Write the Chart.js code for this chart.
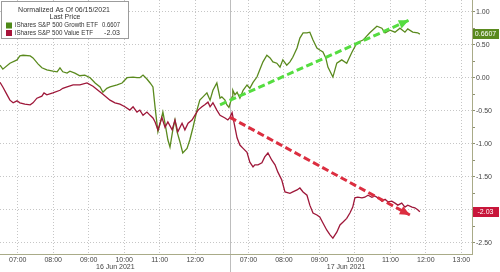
<!DOCTYPE html>
<html>
<head>
<meta charset="utf-8">
<script src="https://cdn.jsdelivr.net/npm/chart.js@4.4.0/dist/chart.umd.min.js"></script>
<style>
  html, body { margin: 0; padding: 0; background: #fff; }
  #wrap { width: 500px; height: 272px; }
</style>
</head>
<body>
<div id="wrap"><canvas id="chart" width="500" height="272"></canvas></div>
<script>
// x values are hours since 06:30 on 16 Jun (17 Jun session starts at 6.5)
const growthTimes = [0, 0.08, 0.28, 0.48, 0.56, 0.65, 0.85, 0.93, 1.07, 1.18, 1.32, 1.49, 1.61, 1.69, 1.77, 1.89, 1.97, 2.11, 2.25, 2.39,
  2.54, 2.68, 2.82, 2.90, 3.01, 3.10, 3.30, 3.44, 3.58, 3.75, 3.86, 3.94, 4.03, 4.14, 4.23, 4.31, 4.37, 4.45, 4.54, 4.59,
  4.65, 4.73, 4.79, 4.87, 4.93, 4.99, 5.07, 5.15, 5.27, 5.35, 5.44, 5.55, 5.63, 5.72, 5.83, 5.92, 6.00, 6.11, 6.20, 6.25,
  6.34, 6.39, 6.45, 6.54, 6.56, 6.62, 6.68, 6.76, 6.85, 6.96, 7.04, 7.13, 7.24, 7.32, 7.41, 7.52, 7.61, 7.69, 7.80, 7.89,
  7.97, 8.08, 8.17, 8.25, 8.37, 8.45, 8.54, 8.65, 8.73, 8.82, 8.93, 9.01, 9.10, 9.18, 9.24, 9.38, 9.49, 9.63, 9.77, 9.92,
  10.06, 10.23, 10.42, 10.62, 10.76, 10.85, 10.99, 11.13, 11.27, 11.41, 11.49, 11.63, 11.77, 11.83];
const growthValues = [0.19, 0.13, 0.22, 0.27, 0.33, 0.34, 0.33, 0.30, 0.21, 0.15, 0.12, 0.10, 0.09, 0.15, 0.09, 0.07, 0.10, 0.07, 0.03, 0.04,
  0.00, -0.08, -0.14, -0.22, -0.16, -0.14, -0.11, -0.08, 0.00, 0.01, 0.00, 0.00, 0.04, -0.02, -0.08, -0.14, -0.45, -0.82, -0.64, -0.52,
  -0.69, -0.94, -1.05, -0.79, -0.64, -0.82, -0.97, -1.14, -1.07, -0.94, -0.75, -0.49, -0.34, -0.29, -0.23, -0.34, -0.19, -0.08, -0.31, -0.29,
  -0.34, -0.41, -0.45, -0.29, -0.19, -0.26, -0.22, -0.31, -0.19, -0.11, -0.16, -0.07, 0.01, 0.12, 0.24, 0.34, 0.30, 0.24, 0.22, 0.16,
  0.27, 0.19, 0.24, 0.31, 0.45, 0.60, 0.68, 0.68, 0.69, 0.57, 0.45, 0.42, 0.39, 0.30, 0.16, 0.01, 0.22, 0.27, 0.22, 0.39,
  0.53, 0.57, 0.68, 0.78, 0.75, 0.68, 0.72, 0.69, 0.75, 0.69, 0.74, 0.69, 0.68, 0.6607];

const valueTimes = [0, 0.08, 0.20, 0.28, 0.37, 0.48, 0.56, 0.70, 0.85, 0.93, 1.04, 1.18, 1.24, 1.32, 1.49, 1.69, 1.77, 1.89, 2.06, 2.25,
  2.45, 2.62, 2.76, 2.90, 3.10, 3.24, 3.38, 3.52, 3.66, 3.75, 3.86, 3.94, 4.03, 4.14, 4.23, 4.31, 4.37, 4.45, 4.56, 4.65,
  4.73, 4.85, 4.93, 5.01, 5.13, 5.21, 5.30, 5.41, 5.49, 5.58, 5.69, 5.77, 5.86, 5.92, 6.00, 6.11, 6.20, 6.34, 6.42, 6.48,
  6.54, 6.59, 6.68, 6.76, 6.85, 6.96, 7.04, 7.13, 7.18, 7.27, 7.38, 7.46, 7.55, 7.66, 7.75, 7.83, 7.94, 8.03, 8.17, 8.25,
  8.37, 8.45, 8.54, 8.65, 8.73, 8.82, 8.93, 9.01, 9.10, 9.21, 9.30, 9.38, 9.49, 9.58, 9.66, 9.77, 9.86, 9.94, 10.00, 10.08,
  10.20, 10.28, 10.37, 10.48, 10.56, 10.65, 10.76, 10.85, 10.93, 11.04, 11.13, 11.21, 11.32, 11.41, 11.49, 11.61, 11.69, 11.77, 11.83];
const valueValues = [-0.07, -0.14, -0.26, -0.34, -0.38, -0.35, -0.38, -0.40, -0.41, -0.38, -0.31, -0.28, -0.23, -0.26, -0.23, -0.19, -0.16, -0.14, -0.11, -0.11,
  -0.08, -0.13, -0.19, -0.25, -0.34, -0.38, -0.40, -0.44, -0.49, -0.44, -0.52, -0.49, -0.57, -0.52, -0.57, -0.61, -0.67, -0.79, -0.60, -0.75,
  -0.67, -0.79, -0.64, -0.82, -0.69, -0.79, -0.69, -0.64, -0.57, -0.49, -0.44, -0.41, -0.37, -0.44, -0.38, -0.49, -0.57, -0.61, -0.64, -0.60,
  -0.53, -0.67, -0.91, -1.02, -1.07, -1.13, -1.28, -1.35, -1.32, -1.32, -1.29, -1.20, -1.14, -1.25, -1.32, -1.43, -1.55, -1.73, -1.75, -1.73,
  -1.70, -1.67, -1.73, -1.78, -1.93, -2.05, -2.08, -2.11, -2.20, -2.31, -2.38, -2.43, -2.34, -2.23, -2.19, -2.13, -2.05, -1.96, -1.82, -1.81,
  -1.82, -1.81, -1.78, -1.81, -1.79, -1.82, -1.87, -1.84, -1.88, -1.87, -1.90, -1.93, -1.90, -1.96, -1.93, -1.96, -1.97, -2.00, -2.03];

// trend arrows drawn on top of the chart (start, tip)
const upArrowTimes = [6.2, 11.52];
const upArrowValues = [-0.41, 0.87];
const downArrowTimes = [6.48, 11.55];
const downArrowValues = [-0.60, -2.08];

const seriesNames = ['iShares S&P 500 Growth ETF', 'iShares S&P 500 Value ETF'];
const legendTitle = ['Normalized As Of 06/15/2021', 'Last Price'];

const hourTicks = [0.5, 1.5, 2.5, 3.5, 4.5, 5.5, 7, 8, 9, 10, 11, 12, 13];
const hourLabels = ['07:00', '08:00', '09:00', '10:00', '11:00', '12:00', '07:00', '08:00', '09:00', '10:00', '11:00', '12:00', '13:00'];
const dateTicks = [3.25, 9.75];
const dateLabels = ['16 Jun 2021', '17 Jun 2021'];
const dayBreak = 6.5;
const yTickValues = [1, 0.75, 0.5, 0.25, 0, -0.25, -0.5, -0.75, -1, -1.25, -1.5, -1.75, -2, -2.25, -2.5];

const xMax = 13.3;
const yMin = -2.67;
const yMax = 1.177;

const GREEN = '#5a8a1e';
const RED = '#9e1739';
const ARROW_GREEN = '#55dd40';
const ARROW_RED = '#dc2e40';
const gridColor = '#c6c6c6';
const axisColor = '#a9ab88';
const FONT = "'Liberation Sans', Arial, sans-serif";

Chart.defaults.font.family = FONT;
Chart.defaults.font.size = 7;
Chart.defaults.color = '#444';

const toPoints = (xs, ys) => xs.map((x, i) => ({ x: x, y: ys[i] }));
const lastOf = arr => arr[arr.length - 1];
const isMajor = v => Math.abs(v * 2 - Math.round(v * 2)) < 1e-6;
const noPadding = s => { s.paddingLeft = 0; s.paddingRight = 0; s.paddingTop = 0; s.paddingBottom = 0; };

function arrowDataset(xs, ys, color) {
    return {
        data: toPoints(xs, ys),
        borderColor: color,
        borderWidth: 3,
        borderDash: [7, 3.5],
        pointRadius: 0,
        order: 0,
        isArrow: true
    };
}

// arrow heads at the last point of each arrow dataset
const arrowHeadPlugin = {
    id: 'arrowHeads',
    afterDatasetsDraw(chart) {
        const ctx = chart.ctx;
        chart.data.datasets.forEach((ds, i) => {
            if (!ds.isArrow) return;
            const pts = chart.getDatasetMeta(i).data;
            const a = pts[0], b = pts[1];
            const len = Math.hypot(b.x - a.x, b.y - a.y);
            const ux = (b.x - a.x) / len, uy = (b.y - a.y) / len;
            const headLen = 10, halfW = 4.5;
            const bx = b.x - ux * headLen, by = b.y - uy * headLen;
            ctx.save();
            ctx.fillStyle = ds.borderColor;
            ctx.beginPath();
            ctx.moveTo(b.x, b.y);
            ctx.lineTo(bx - uy * halfW, by + ux * halfW);
            ctx.lineTo(bx + uy * halfW, by - ux * halfW);
            ctx.closePath();
            ctx.fill();
            ctx.restore();
        });
    }
};

// last price boxes on the right axis + legend box in the corner
const overlayPlugin = {
    id: 'overlay',
    afterDraw(chart) {
        const { ctx, chartArea, scales } = chart;
        const lasts = [lastOf(growthValues), lastOf(valueValues)];
        const colors = [GREEN, '#c8163a'];

        ctx.save();
        ctx.font = '7px ' + FONT;
        ctx.textBaseline = 'middle';
        lasts.forEach((v, i) => {
            const y = Math.round(scales.y.getPixelForValue(v));
            ctx.fillStyle = colors[i];
            ctx.fillRect(chartArea.right + 1, y - 5, 26, 10);
            ctx.fillStyle = '#fff';
            ctx.textAlign = 'center';
            ctx.fillText(String(v), chartArea.right + 13.5, y + 0.5);
        });

        // legend
        ctx.fillStyle = '#fff';
        ctx.fillRect(1, 1, 128, 38);
        ctx.strokeStyle = '#9c9c9c';
        ctx.lineWidth = 1;
        ctx.strokeRect(1.5, 1.5, 127, 37);
        ctx.fillStyle = '#333';
        ctx.textAlign = 'center';
        ctx.fillText(legendTitle[0], 64, 10, 92);
        ctx.fillText(legendTitle[1], 65, 17.5, 31);
        const legendColors = ['#4e8a18', '#a8143a'];
        const nameWidths = [83, 78];
        [25.5, 33].forEach((y, i) => {
            ctx.fillStyle = legendColors[i];
            ctx.fillRect(6, y - 3, 6, 6);
            ctx.fillStyle = '#333';
            ctx.textAlign = 'left';
            ctx.fillText(seriesNames[i], 15, y, nameWidths[i]);
            ctx.textAlign = 'right';
            ctx.fillText(String(lasts[i]), 120, y, 18);
        });
        ctx.restore();
    }
};

const chart = new Chart(document.getElementById('chart'), {
    type: 'line',
    data: {
        datasets: [
            arrowDataset(upArrowTimes, upArrowValues, ARROW_GREEN),
            arrowDataset(downArrowTimes, downArrowValues, ARROW_RED),
            {
                label: seriesNames[0],
                data: toPoints(growthTimes, growthValues),
                borderColor: GREEN,
                borderWidth: 1.3,
                pointRadius: 0,
                order: 2
            },
            {
                label: seriesNames[1],
                data: toPoints(valueTimes, valueValues),
                borderColor: RED,
                borderWidth: 1.3,
                pointRadius: 0,
                order: 1
            }
        ]
    },
    options: {
        responsive: false,
        animation: false,
        devicePixelRatio: 1,
        layout: { padding: 0, autoPadding: false },
        plugins: {
            legend: { display: false },
            tooltip: { enabled: false }
        },
        scales: {
            xDivider: {
                type: 'linear', position: 'bottom', min: 0, max: xMax, weight: -1,
                afterBuildTicks: s => { s.ticks = [{ value: dayBreak }]; },
                afterFit: s => { s.height = 0; noPadding(s); },
                ticks: { display: false },
                grid: { color: '#bdbdbd', tickLength: 18 },
                border: { display: false }
            },
            x: {
                type: 'linear', position: 'bottom', min: 0, max: xMax, weight: 0,
                afterBuildTicks: s => { s.ticks = hourTicks.map(v => ({ value: v })); },
                afterFit: s => { s.height = 9; noPadding(s); },
                ticks: {
                    autoSkip: false, maxRotation: 0, padding: 2,
                    callback: v => hourLabels[hourTicks.indexOf(v)]
                },
                grid: { color: gridColor, drawTicks: false },
                border: { display: true, color: axisColor, dash: [1, 2] }
            },
            xDate: {
                type: 'linear', position: 'bottom', min: 0, max: xMax, weight: 1,
                afterBuildTicks: s => { s.ticks = dateTicks.map(v => ({ value: v })); },
                afterFit: s => { s.height = 9; noPadding(s); },
                ticks: {
                    autoSkip: false, maxRotation: 0, padding: 0,
                    callback: v => dateLabels[dateTicks.indexOf(v)]
                },
                grid: { display: false, drawTicks: false },
                border: { display: false }
            },
            y: {
                position: 'right', min: yMin, max: yMax,
                afterBuildTicks: s => { s.ticks = yTickValues.map(v => ({ value: v })); },
                afterFit: s => { s.width = 28; noPadding(s); },
                ticks: {
                    autoSkip: false, padding: 1,
                    callback: v => isMajor(v) ? v.toFixed(2) : ''
                },
                grid: {
                    color: ctx => (ctx.tick && isMajor(ctx.tick.value)) ? gridColor : 'rgba(0,0,0,0)',
                    tickColor: '#8e9070',
                    tickLength: 3,
                    tickBorderDash: []
                },
                border: { color: axisColor, dash: [1, 2] }
            }
        }
    },
    plugins: [arrowHeadPlugin, overlayPlugin]
});
</script>
</body>
</html>
